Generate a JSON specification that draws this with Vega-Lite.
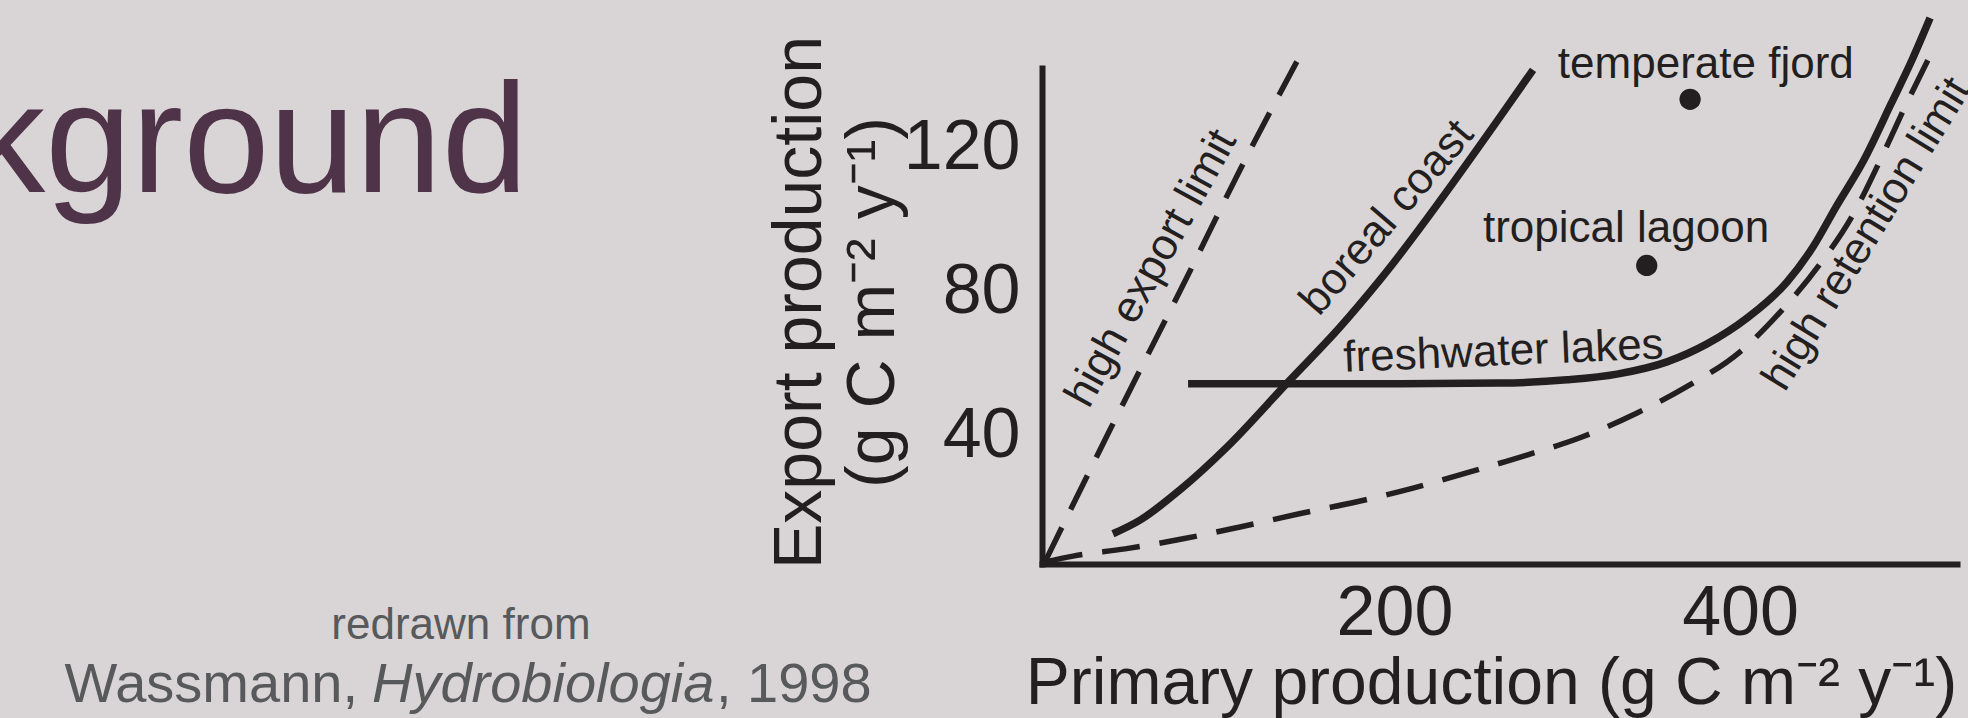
{
  "$schema": "https://vega.github.io/schema/vega-lite/v6.json",
  "width": 915,
  "height": 496,
  "autosize": {"type": "none"},
  "padding": {"left": 1042, "top": 68, "right": 11, "bottom": 154},
  "background": "#d9d5d6",
  "config": {
    "view": {"stroke": null},
    "font": "Liberation Sans",
    "axis": {
      "grid": false,
      "ticks": false,
      "tickSize": 0,
      "domainColor": "#231f20",
      "domainWidth": 6,
      "domainCap": "square",
      "labelColor": "#231f20",
      "labelFont": "Liberation Sans",
      "labelFontSize": 70,
      "labelFlush": false,
      "labelOverlap": false,
      "titleColor": "#231f20",
      "titleFont": "Liberation Sans",
      "titleFontWeight": "normal"
    }
  },
  "datasets": {
    "curves": [
      {"series": "high export limit", "x": -2.3, "y": 4.9},
      {"series": "high export limit", "x": 35.3, "y": 41.6},
      {"series": "high export limit", "x": 79.9, "y": 84.1},
      {"series": "high export limit", "x": 110.6, "y": 113.9},
      {"series": "high export limit", "x": 146.5, "y": 146.7},
      {"series": "high retention limit", "x": -2.3, "y": 4.9},
      {"series": "high retention limit", "x": 13.9, "y": 6.5},
      {"series": "high retention limit", "x": 44.0, "y": 8.5},
      {"series": "high retention limit", "x": 77.6, "y": 11.3},
      {"series": "high retention limit", "x": 110.6, "y": 14.6},
      {"series": "high retention limit", "x": 144.2, "y": 18.2},
      {"series": "high retention limit", "x": 178.3, "y": 21.6},
      {"series": "high retention limit", "x": 210.7, "y": 25.4},
      {"series": "high retention limit", "x": 243.7, "y": 29.9},
      {"series": "high retention limit", "x": 276.7, "y": 34.6},
      {"series": "high retention limit", "x": 308.5, "y": 39.6},
      {"series": "high retention limit", "x": 340.4, "y": 46.3},
      {"series": "high retention limit", "x": 369.9, "y": 53.8},
      {"series": "high retention limit", "x": 400.0, "y": 63.3},
      {"series": "high retention limit", "x": 424.3, "y": 74.9},
      {"series": "high retention limit", "x": 446.3, "y": 87.7},
      {"series": "high retention limit", "x": 465.4, "y": 101.4},
      {"series": "high retention limit", "x": 480.5, "y": 115.9},
      {"series": "high retention limit", "x": 495.0, "y": 130.9},
      {"series": "high retention limit", "x": 510.0, "y": 145.6},
      {"series": "boreal coast", "x": 37.0, "y": 12.7},
      {"series": "boreal coast", "x": 52.7, "y": 16.5},
      {"series": "boreal coast", "x": 75.8, "y": 24.9},
      {"series": "boreal coast", "x": 103.0, "y": 36.8},
      {"series": "boreal coast", "x": 137.8, "y": 54.6},
      {"series": "boreal coast", "x": 168.5, "y": 70.2},
      {"series": "boreal coast", "x": 191.6, "y": 83.3},
      {"series": "boreal coast", "x": 261.1, "y": 128.6},
      {"series": "boreal coast", "x": 280.2, "y": 141.7},
      {"series": "freshwater lakes", "x": 80.5, "y": 54.4},
      {"series": "freshwater lakes", "x": 145.3, "y": 54.4},
      {"series": "freshwater lakes", "x": 203.2, "y": 54.4},
      {"series": "freshwater lakes", "x": 261.1, "y": 54.6},
      {"series": "freshwater lakes", "x": 299.9, "y": 55.5},
      {"series": "freshwater lakes", "x": 328.8, "y": 57.1},
      {"series": "freshwater lakes", "x": 357.7, "y": 60.5},
      {"series": "freshwater lakes", "x": 380.9, "y": 65.5},
      {"series": "freshwater lakes", "x": 404.1, "y": 72.7},
      {"series": "freshwater lakes", "x": 427.2, "y": 82.7},
      {"series": "freshwater lakes", "x": 442.3, "y": 92.5},
      {"series": "freshwater lakes", "x": 455.6, "y": 103.6},
      {"series": "freshwater lakes", "x": 471.8, "y": 116.7},
      {"series": "freshwater lakes", "x": 487.4, "y": 132.2},
      {"series": "freshwater lakes", "x": 499.6, "y": 144.5},
      {"series": "freshwater lakes", "x": 510.0, "y": 156.1}
    ],
    "sites": [
      {"site": "temperate fjord", "x": 371.1, "y": 133.5},
      {"site": "tropical lagoon", "x": 346.0, "y": 87.3}
    ],
    "labels": [
      {"text": "temperate fjord", "x": 380.2, "y": 139.4},
      {"text": "tropical lagoon", "x": 334.0, "y": 93.9},
      {"text": "freshwater lakes", "x": 263.4, "y": 59.6},
      {"text": "boreal coast", "x": 201.5, "y": 98.2},
      {"text": "high export limit", "x": 66.0, "y": 84.7},
      {"text": "high retention limit", "x": 480.0, "y": 94.1}
    ],
    "notes": [
      {"text": "Background", "x": -301.6, "y": 107.8},
      {"text": "redrawn from", "x": -340.4, "y": -16.6},
      {"text": "Wassmann,", "x": -400.0, "y": -34.0},
      {"text": "Hydrobiologia", "x": -391.9, "y": -34.0},
      {"text": ", 1998", "x": -192.8, "y": -34.0}
    ]
  },
  "encoding": {
    "x": {
      "field": "x",
      "type": "quantitative",
      "scale": {"domain": [-4.05, 525.6], "nice": false, "zero": false},
      "axis": {
        "values": [200, 400],
        "labelPadding": 15,
        "title": "Primary production (g C m⁻² y⁻¹)",
        "titleFontSize": 66,
        "titleX": 449,
        "titleY": 139,
        "titleAlign": "center",
        "titleBaseline": "alphabetic"
      }
    },
    "y": {
      "field": "y",
      "type": "quantitative",
      "scale": {"domain": [4.3, 142.2], "nice": false, "zero": false},
      "axis": {
        "values": [40, 80, 120],
        "labelPadding": 22,
        "title": ["Export production", "(g C m⁻² y⁻¹)"],
        "titleFontSize": 68,
        "titleLineHeight": 73,
        "titleAngle": 270,
        "titleX": -222,
        "titleY": 234,
        "titleAlign": "center",
        "titleBaseline": "alphabetic"
      }
    }
  },
  "layer": [
    {
      "data": {"name": "curves"},
      "transform": [{"filter": {"field": "series", "oneOf": ["high export limit", "high retention limit"]}}],
      "mark": {"type": "line", "color": "#231f20", "strokeWidth": 5.5, "strokeDash": [38, 20], "interpolate": "monotone"},
      "encoding": {"detail": {"field": "series"}}
    },
    {
      "data": {"name": "curves"},
      "transform": [{"filter": {"field": "series", "oneOf": ["boreal coast", "freshwater lakes"]}}],
      "mark": {"type": "line", "color": "#231f20", "strokeWidth": 7.5, "interpolate": "monotone"},
      "encoding": {"detail": {"field": "series"}}
    },
    {
      "data": {"name": "sites"},
      "mark": {"type": "circle", "color": "#231f20", "opacity": 1, "size": 452}
    },
    {
      "data": {"name": "labels"},
      "transform": [{"filter": {"field": "text", "oneOf": ["temperate fjord", "tropical lagoon"]}}],
      "mark": {"type": "text", "fontSize": 44, "color": "#231f20", "align": "center", "baseline": "alphabetic"},
      "encoding": {"text": {"field": "text"}}
    },
    {
      "data": {"name": "labels"},
      "transform": [{"filter": {"field": "text", "equal": "freshwater lakes"}}],
      "mark": {"type": "text", "fontSize": 44, "color": "#231f20", "align": "center", "baseline": "alphabetic", "angle": 357.6},
      "encoding": {"text": {"field": "text"}}
    },
    {
      "data": {"name": "labels"},
      "transform": [{"filter": {"field": "text", "equal": "boreal coast"}}],
      "mark": {"type": "text", "fontSize": 44, "color": "#231f20", "align": "center", "baseline": "alphabetic", "angle": 310.6},
      "encoding": {"text": {"field": "text"}}
    },
    {
      "data": {"name": "labels"},
      "transform": [{"filter": {"field": "text", "equal": "high export limit"}}],
      "mark": {"type": "text", "fontSize": 44, "color": "#231f20", "align": "center", "baseline": "alphabetic", "angle": 298.8},
      "encoding": {"text": {"field": "text"}}
    },
    {
      "data": {"name": "labels"},
      "transform": [{"filter": {"field": "text", "equal": "high retention limit"}}],
      "mark": {"type": "text", "fontSize": 44, "color": "#231f20", "align": "center", "baseline": "alphabetic", "angle": 301.6},
      "encoding": {"text": {"field": "text"}}
    },
    {
      "data": {"name": "notes"},
      "transform": [{"filter": {"field": "text", "equal": "Background"}}],
      "mark": {"type": "text", "fontSize": 155, "color": "#4f3349", "align": "right", "baseline": "alphabetic"},
      "encoding": {"text": {"field": "text"}}
    },
    {
      "data": {"name": "notes"},
      "transform": [{"filter": {"field": "text", "equal": "redrawn from"}}],
      "mark": {"type": "text", "fontSize": 44, "color": "#58595b", "align": "center", "baseline": "alphabetic"},
      "encoding": {"text": {"field": "text"}}
    },
    {
      "data": {"name": "notes"},
      "transform": [{"filter": {"field": "text", "equal": "Wassmann,"}}],
      "mark": {"type": "text", "fontSize": 56, "color": "#58595b", "align": "right", "baseline": "alphabetic"},
      "encoding": {"text": {"field": "text"}}
    },
    {
      "data": {"name": "notes"},
      "transform": [{"filter": {"field": "text", "equal": "Hydrobiologia"}}],
      "mark": {"type": "text", "fontSize": 56, "fontStyle": "italic", "color": "#58595b", "align": "left", "baseline": "alphabetic"},
      "encoding": {"text": {"field": "text"}}
    },
    {
      "data": {"name": "notes"},
      "transform": [{"filter": {"field": "text", "equal": ", 1998"}}],
      "mark": {"type": "text", "fontSize": 56, "color": "#58595b", "align": "left", "baseline": "alphabetic"},
      "encoding": {"text": {"field": "text"}}
    }
  ]
}
